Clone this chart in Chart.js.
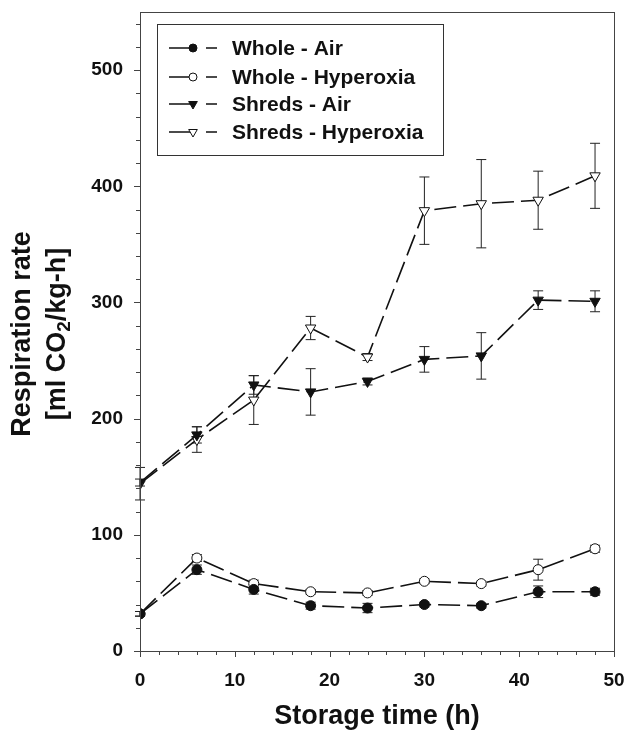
<!DOCTYPE html>
<html>
<head>
<meta charset="utf-8">
<script src="https://cdn.jsdelivr.net/npm/chart.js@4.4.1/dist/chart.umd.min.js"></script>
<style>
body{margin:0;background:#fff;}
#c{display:block;}
</style>
</head>
<body>
<canvas id="c" width="627" height="736"></canvas>
<script>
// storage times (h) and respiration rates (ml CO2/kg-h), mean and error
const hours=[0,6,12,18,24,30,36,42,48]

const wholeAir=[32,70,53,39,37,40,39,51,51]
const wholeAirErr=[2,4,4,3,4,2,2,5,3]
const wholeHyp=[32,80,58,51,50,60,58,70,88]
const wholeHypErr=[2,3,3,2,2,2,2,9,3]
const shredsAir=[145,186,229,223,232,251,254,302,301]
const shredsAirErr=[3,7,8,20,3,11,20,8,9]
const shredsHyp=[144,182,216,278,253,379,385,388,409]
const shredsHypErr=[14,11,21,10,3,29,38,25,28]

const seriesNames=["Whole - Air","Whole - Hyperoxia","Shreds - Air","Shreds - Hyperoxia"]

const xTicks=[0,10,20,30,40,50]
const yTicks=[0,100,200,300,400,500]

const FONT="'Liberation Sans', Arial, sans-serif"
const INK="#111"

function pts(vals){
return hours.map((h,i)=>({x:h,y:vals[i]}))
}

function ds(label,vals,err,style,fill,radius){
return {
label:label,
data:pts(vals),
err:err,
borderColor:INK,
borderWidth:1.6,
borderDash:[22,7],
fill:false,
tension:0,
pointStyle:style,
pointRotation:style=="triangle"?180:0,
pointRadius:radius,
pointBackgroundColor:fill,
pointBorderColor:INK,
pointBorderWidth:1
}
}

// error bars, drawn under the lines and markers
const errorBars={
id:"errorBars",
beforeDatasetsDraw(chart){
const ctx=chart.ctx
const y=chart.scales.y
ctx.save()
ctx.strokeStyle="#222"
ctx.lineWidth=1
chart.data.datasets.forEach(d=>{
d.data.forEach((p,i)=>{
const e=d.err[i]
const px=chart.scales.x.getPixelForValue(p.x)
const top=y.getPixelForValue(p.y+e)
const bot=y.getPixelForValue(p.y-e)
ctx.beginPath()
ctx.moveTo(px,top);ctx.lineTo(px,bot)
ctx.moveTo(px-5,top);ctx.lineTo(px+5,top)
ctx.moveTo(px-5,bot);ctx.lineTo(px+5,bot)
ctx.stroke()
})
})
ctx.restore()
}
}

// frame, tick marks, axis titles and legend box
const decor={
id:"decor",
afterDraw(chart){
const ctx=chart.ctx
const a=chart.chartArea
const xs=chart.scales.x, ys=chart.scales.y
ctx.save()

ctx.strokeStyle="#444"
ctx.lineWidth=1
ctx.strokeRect(a.left+0.5,a.top+0.5,a.right-a.left,a.bottom-a.top)

ctx.beginPath()
for(let v=0;v<=50;v+=2){
const px=Math.round(xs.getPixelForValue(v))+0.5
const len=v%10==0?6:4
ctx.moveTo(px,a.bottom);ctx.lineTo(px,a.bottom+len)
}
for(let v=0;v<=540;v+=20){
const py=Math.round(ys.getPixelForValue(v))+0.5
const len=v%100==0?6:4
ctx.moveTo(a.left,py);ctx.lineTo(a.left-len,py)
}
ctx.stroke()

// axis titles
ctx.fillStyle=INK
ctx.font="bold 27px "+FONT
ctx.textAlign="center"
ctx.textBaseline="alphabetic"
ctx.fillText("Storage time (h)",(a.left+a.right)/2,724)

ctx.save()
ctx.translate(23,334)
ctx.rotate(-Math.PI/2)
ctx.textBaseline="middle"
ctx.fillText("Respiration rate",0,0)
ctx.restore()

ctx.save()
ctx.translate(58,334)
ctx.rotate(-Math.PI/2)
ctx.textBaseline="middle"
ctx.textAlign="left"
const big="bold 27px "+FONT, small="bold 19px "+FONT
const p1="[ml CO", p2="2", p3="/kg-h]"
ctx.font=big
const w1=ctx.measureText(p1).width, w3=ctx.measureText(p3).width
ctx.font=small
const w2=ctx.measureText(p2).width
let x0=-(w1+w2+w3)/2
ctx.font=big
ctx.fillText(p1,x0,0)
ctx.font=small
ctx.fillText(p2,x0+w1,7)
ctx.font=big
ctx.fillText(p3,x0+w1+w2,0)
ctx.restore()

// legend
ctx.fillStyle="#fff"
ctx.fillRect(157,24,286,131)
ctx.strokeStyle="#333"
ctx.strokeRect(157.5,24.5,286,131)
const rows=[48,77,104,132]
chart.data.datasets.forEach((d,i)=>{
const ry=rows[i]
ctx.strokeStyle=INK
ctx.lineWidth=1.5
ctx.beginPath()
ctx.moveTo(169,ry);ctx.lineTo(193,ry)
ctx.moveTo(206,ry);ctx.lineTo(217,ry)
ctx.stroke()
ctx.fillStyle=d.pointBackgroundColor
ctx.lineWidth=1
Chart.helpers.drawPoint(ctx,{
pointStyle:d.pointStyle,
rotation:d.pointRotation,
radius:d.pointStyle=="triangle"?5:4,
borderWidth:1
},193,ry)
ctx.fillStyle=INK
ctx.font="bold 21px "+FONT
ctx.textAlign="left"
ctx.textBaseline="middle"
ctx.fillText(seriesNames[i],232,ry+1)
})

ctx.restore()
}
}

new Chart(document.getElementById("c"),{
type:"line",
data:{
datasets:[
ds(seriesNames[0],wholeAir,wholeAirErr,"circle",INK,5),
ds(seriesNames[1],wholeHyp,wholeHypErr,"circle","#fff",5),
ds(seriesNames[2],shredsAir,shredsAirErr,"triangle",INK,6),
ds(seriesNames[3],shredsHyp,shredsHypErr,"triangle","#fff",6)
]
},
options:{
responsive:false,
animation:false,
layout:{padding:{top:12,right:13,left:0,bottom:0}},
plugins:{legend:{display:false},tooltip:{enabled:false}},
scales:{
x:{
type:"linear",
min:0,max:50,
grid:{display:false},
border:{display:false},
afterFit(s){s.height=85;s.paddingLeft=0;s.paddingRight=0},
afterBuildTicks(s){s.ticks=xTicks.map(v=>({value:v}))},
ticks:{color:INK,padding:10,maxRotation:0,font:{family:FONT,size:19,weight:"bold"}}
},
y:{
min:0,max:550,
grid:{display:false},
border:{display:false},
afterFit(s){s.width=140;s.paddingTop=0;s.paddingBottom=0},
afterBuildTicks(s){s.ticks=yTicks.map(v=>({value:v}))},
ticks:{color:INK,padding:9,font:{family:FONT,size:19,weight:"bold"}}
}
}
},
plugins:[errorBars,decor]
})
</script>
</body>
</html>
